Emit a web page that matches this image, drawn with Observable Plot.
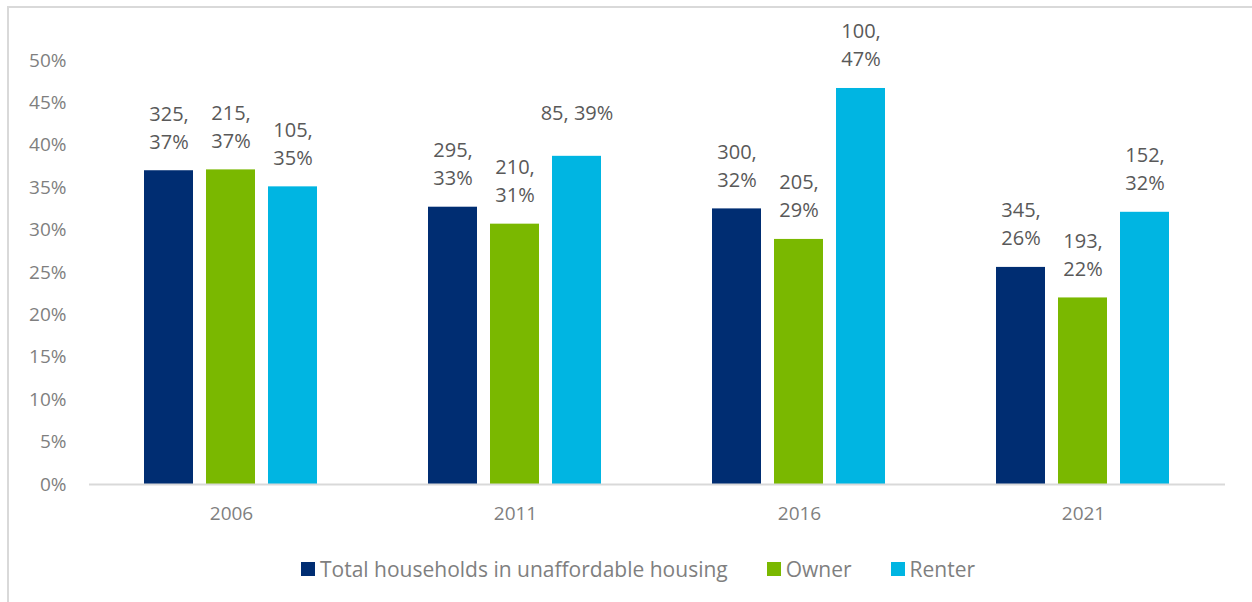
<!DOCTYPE html>
<html>
<head>
<meta charset="utf-8">
<script src="https://cdn.jsdelivr.net/npm/d3@7"></script>
<script src="https://cdn.jsdelivr.net/npm/@observablehq/plot@0.6"></script>
<style>
  html, body { margin: 0; padding: 0; background: #fff; }
  body { width: 1252px; height: 602px; position: relative; overflow: hidden; font-family: "Open Sans", sans-serif; }
  #frame { position: absolute; left: 7px; top: 6px; width: 1270px; height: 620px; border: 2px solid #d9d9d9; box-sizing: border-box; }
  #chart { position: absolute; left: 0; top: 0; }
  #legend { position: absolute; left: 301px; top: 555px; display: flex; align-items: center; font-size: 21px; color: #7f7f7f; white-space: nowrap; }
  #legend .item { display: flex; align-items: center; margin-right: 39px; }
  #legend .sw { width: 14px; height: 14px; margin-right: 5px; display: inline-block; }
</style>
</head>
<body>
<div id="frame"></div>
<div id="chart"></div>
<div id="legend"></div>
<script>
const years = ["2006", "2011", "2016", "2021"];
const seriesNames = ["Total households in unaffordable housing", "Owner", "Renter"];
const seriesColors = ["#002D72", "#7AB800", "#00B5E2"];
// percent shares
const totalPct  = [37.0, 32.7, 32.5, 25.6];
const ownerPct  = [37.1, 30.7, 28.9, 22.0];
const renterPct = [35.1, 38.7, 46.7, 32.1];
// data label texts as printed on the chart
const totalLabels  = ["325,\n37%", "295,\n33%", "300,\n32%", "345,\n26%"];
const ownerLabels  = ["215,\n37%", "210,\n31%", "205,\n29%", "193,\n22%"];
const renterLabels = ["105,\n35%", "85, 39%", "100,\n47%", "152,\n32%"];
const yTicks = [0, 5, 10, 15, 20, 25, 30, 35, 40, 45, 50];

const values = [totalPct, ownerPct, renterPct];
const labels = [totalLabels, ownerLabels, renterLabels];
const data = [];
years.forEach((yr, i) => {
  seriesNames.forEach((s, j) => {
    data.push({year: yr, series: s, value: values[j][i], label: labels[j][i]});
  });
});

const chart = Plot.plot({
  width: 1252,
  height: 534,
  marginLeft: 88,
  marginRight: 26,
  marginTop: 60,
  marginBottom: 50,
  style: {fontFamily: "Open Sans, sans-serif", background: "transparent", overflow: "visible"},
  fx: {domain: years, padding: 0, label: null, axis: null},
  x: {domain: seriesNames, paddingInner: 0.206, paddingOuter: 0.861, axis: null},
  y: {domain: [0, 50], label: null, axis: null},
  color: {domain: seriesNames, range: seriesColors},
  marks: [
    Plot.axisY({ticks: yTicks, tickFormat: d => d + "%", tickSize: 0, tickPadding: 23, fontSize: 19, color: "#7f7f7f", label: null}),
    Plot.axisFx({anchor: "bottom", tickSize: 0, tickPadding: 22, fontSize: 19, color: "#7f7f7f", label: null}),
    Plot.barY(data, {fx: "year", x: "series", y: "value", fill: "series"}),
    Plot.ruleY([0], {stroke: "#d9d9d9", strokeWidth: 2}),
    Plot.text(data, {fx: "year", x: "series", y: "value", text: "label", lineAnchor: "middle", dy: -45, lineHeight: 1.4, fontSize: 20, fill: "#595959"})
  ]
});
document.getElementById("chart").appendChild(chart);

const legend = document.getElementById("legend");
seriesNames.forEach((s, j) => {
  const item = document.createElement("div");
  item.className = "item";
  const sw = document.createElement("span");
  sw.className = "sw";
  sw.style.background = seriesColors[j];
  const t = document.createElement("span");
  t.textContent = s;
  item.appendChild(sw);
  item.appendChild(t);
  legend.appendChild(item);
});
</script>
</body>
</html>
